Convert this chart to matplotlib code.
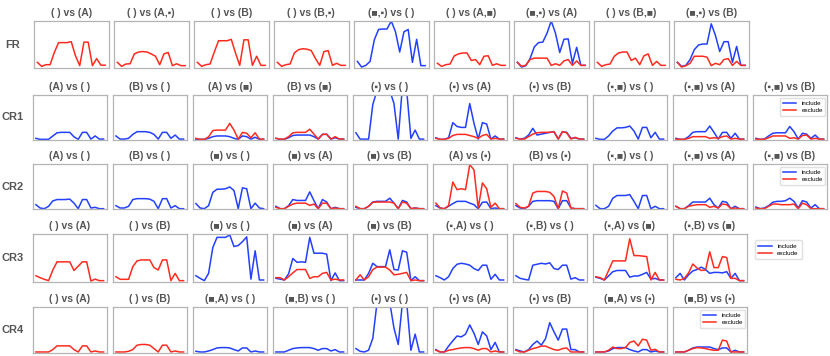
import numpy as np
import matplotlib.pyplot as plt

plt.rcParams['font.family'] = ['Liberation Sans', 'DejaVu Sans']

hours = np.arange(17)
BLUE = '#2340ff'
RED = '#ff2b1f'

row_names = ['FR', 'CR1', 'CR2', 'CR3', 'CR4']

fr_titles = ['( ) vs (A)', '( ) vs (A,▪)', '( ) vs (B)', '( ) vs (B,▪)', '(■,▪) vs ( )',
             '( ) vs (A,■)', '(■,▪) vs (A)', '( ) vs (B,■)', '(■,▪) vs (B)']
fr_include = [None, None, None, None,
              [0.14, 0.02, 0.056, 0.14, 0.6, 0.82, 0.83, 0.83, 1.0, 0.77, 0.34, 0.77, 0.82, 0.12, 0.61, 0.05, 0.05],
              None,
              [0.12, 0.02, 0.05, 0.2, 0.45, 0.54, 0.55, 0.74, 1.0, 0.74, 0.33, 0.61, 0.62, 0.1, 0.44, 0.056, 0.056],
              None,
              [0.12, 0.035, 0.056, 0.18, 0.39, 0.49, 0.51, 0.51, 0.94, 0.69, 0.35, 0.56, 0.56, 0.12, 0.46, 0.056, 0.056]]
fr_exclude = [[0.12, 0.035, 0.07, 0.07, 0.33, 0.54, 0.54, 0.54, 0.56, 0.26, 0.05, 0.55, 0.55, 0.05, 0.2, 0.06, 0.06],
              [0.12, 0.035, 0.085, 0.09, 0.3, 0.34, 0.35, 0.34, 0.3, 0.25, 0.07, 0.3, 0.33, 0.05, 0.09, 0.05, 0.05],
              [0.12, 0.035, 0.07, 0.085, 0.34, 0.58, 0.58, 0.58, 0.61, 0.32, 0.056, 0.6, 0.6, 0.056, 0.25, 0.056, 0.056],
              [0.12, 0.035, 0.07, 0.085, 0.32, 0.39, 0.41, 0.4, 0.37, 0.2, 0.056, 0.35, 0.37, 0.056, 0.1, 0.056, 0.056],
              None,
              [0.1, 0.035, 0.07, 0.085, 0.26, 0.3, 0.32, 0.32, 0.16, 0.18, 0.07, 0.25, 0.26, 0.056, 0.09, 0.056, 0.056],
              [0.12, 0.035, 0.06, 0.18, 0.21, 0.21, 0.21, 0.21, 0.056, 0.09, 0.056, 0.15, 0.18, 0.056, 0.15, 0.056, 0.056],
              [0.12, 0.035, 0.07, 0.085, 0.25, 0.32, 0.34, 0.34, 0.16, 0.21, 0.07, 0.26, 0.3, 0.056, 0.14, 0.056, 0.056],
              [0.12, 0.02, 0.05, 0.1, 0.25, 0.25, 0.25, 0.23, 0.05, 0.1, 0.07, 0.18, 0.2, 0.056, 0.14, 0.056, 0.056]]

cr1_titles = ['(A) vs ( )', '(B) vs ( )', '(A) vs (■)', '(B) vs (■)', '(▪) vs ( )',
              '(▪) vs (A)', '(▪) vs (B)', '(▪,■) vs ( )', '(▪,■) vs (A)', '(▪,■) vs (B)']
cr1_include = [[0.037, 0.015, 0.015, 0.015, 0.09, 0.16, 0.17, 0.17, 0.17, 0.07, 0.015, 0.17, 0.17, 0.02, 0.09, 0.02, 0.02],
               [0.09, 0.02, 0.02, 0.037, 0.125, 0.185, 0.185, 0.185, 0.17, 0.125, 0.02, 0.17, 0.17, 0.037, 0.11, 0.02, 0.02],
               [0.02, 0.015, 0.015, 0.037, 0.074, 0.09, 0.09, 0.09, 0.074, 0.037, 0.015, 0.09, 0.074, 0.02, 0.06, 0.015, 0.015],
               [0.037, 0.015, 0.015, 0.05, 0.1, 0.11, 0.11, 0.11, 0.11, 0.074, 0.02, 0.125, 0.125, 0.02, 0.05, 0.02, 0.02],
               [0.16, 0.02, 0.02, 0.02, 0.79, 1.1, 1.2, 1.2, 1.1, 0.81, 0.02, 1.2, 1.1, 0.037, 0.22, 0.02, 0.02],
               [0.05, 0.015, 0.015, 0.05, 0.385, 0.3, 0.28, 0.28, 0.81, 0.37, 0.02, 0.385, 0.355, 0.02, 0.09, 0.02, 0.02],
               [0.05, 0.02, 0.037, 0.11, 0.26, 0.11, 0.13, 0.15, 0.17, 0.185, 0.02, 0.185, 0.17, 0.037, 0.05, 0.02, 0.02],
               [0.037, 0.015, 0.015, 0.09, 0.2, 0.27, 0.27, 0.28, 0.31, 0.2, 0.02, 0.28, 0.28, 0.05, 0.17, 0.02, 0.02],
               [0.037, 0.015, 0.015, 0.074, 0.17, 0.185, 0.185, 0.185, 0.31, 0.17, 0.02, 0.17, 0.17, 0.037, 0.15, 0.02, 0.02],
               [0.037, 0.015, 0.02, 0.09, 0.15, 0.16, 0.16, 0.16, 0.3, 0.185, 0.02, 0.15, 0.13, 0.037, 0.11, 0.02, 0.02]]
cr1_exclude = [None, None,
               [0.037, 0.015, 0.015, 0.07, 0.21, 0.22, 0.22, 0.22, 0.37, 0.22, 0.02, 0.17, 0.15, 0.05, 0.16, 0.02, 0.02],
               [0.037, 0.02, 0.02, 0.074, 0.16, 0.17, 0.17, 0.17, 0.24, 0.13, 0.02, 0.125, 0.13, 0.02, 0.074, 0.02, 0.02],
               None,
               [0.037, 0.015, 0.015, 0.037, 0.1, 0.125, 0.125, 0.125, 0.1, 0.074, 0.037, 0.1, 0.125, 0.02, 0.037, 0.02, 0.02],
               [0.037, 0.02, 0.02, 0.074, 0.13, 0.16, 0.17, 0.17, 0.17, 0.185, 0.02, 0.185, 0.16, 0.02, 0.06, 0.02, 0.02],
               None,
               [0.02, 0.015, 0.015, 0.037, 0.074, 0.074, 0.074, 0.074, 0.037, 0.05, 0.037, 0.074, 0.09, 0.02, 0.037, 0.02, 0.02],
               [0.02, 0.015, 0.015, 0.05, 0.09, 0.09, 0.09, 0.09, 0.037, 0.05, 0.02, 0.1, 0.11, 0.02, 0.037, 0.02, 0.02]]

cr2_titles = ['(A) vs ( )', '(B) vs ( )', '(■) vs ( )', '(■) vs (A)', '(■) vs (B)',
              '(A) vs (▪)', '(B) vs (▪)', '(▪,■) vs ( )', '(▪,■) vs (A)', '(▪,■) vs (B)']
cr2_include = [[0.096, 0.022, 0.007, 0.06, 0.18, 0.21, 0.21, 0.21, 0.22, 0.13, 0.007, 0.21, 0.21, 0.022, 0.037, 0.007, 0.007],
               [0.074, 0.022, 0.022, 0.06, 0.21, 0.23, 0.23, 0.23, 0.22, 0.17, 0.007, 0.23, 0.23, 0.022, 0.074, 0.007, 0.007],
               [0.12, 0.022, 0.007, 0.074, 0.37, 0.44, 0.44, 0.45, 0.49, 0.41, 0.007, 0.47, 0.45, 0.007, 0.13, 0.022, 0.007],
               [0.06, 0.007, 0.007, 0.074, 0.21, 0.19, 0.19, 0.19, 0.38, 0.185, 0.007, 0.21, 0.155, 0.007, 0.037, 0.007, 0.007],
               [0.037, 0.007, 0.007, 0.06, 0.155, 0.17, 0.17, 0.17, 0.24, 0.13, 0.007, 0.19, 0.155, 0.007, 0.022, 0.007, 0.007],
               [0.074, 0.022, 0.007, 0.06, 0.12, 0.17, 0.17, 0.17, 0.13, 0.096, 0.007, 0.15, 0.155, 0.007, 0.022, 0.007, 0.007],
               [0.074, 0.022, 0.007, 0.06, 0.17, 0.185, 0.185, 0.185, 0.185, 0.17, 0.007, 0.185, 0.185, 0.022, 0.007, 0.007, 0.007],
               [0.08, 0.007, 0.007, 0.06, 0.24, 0.3, 0.3, 0.3, 0.32, 0.17, 0.007, 0.3, 0.3, 0.007, 0.06, 0.007, 0.007],
               [0.06, 0.007, 0.007, 0.074, 0.155, 0.155, 0.155, 0.155, 0.24, 0.096, 0.022, 0.17, 0.15, 0.007, 0.06, 0.007, 0.007],
               [0.044, 0.007, 0.022, 0.074, 0.15, 0.17, 0.17, 0.185, 0.24, 0.17, 0.022, 0.185, 0.155, 0.022, 0.096, 0.007, 0.007]]
cr2_exclude = [None, None, None,
               [0.037, 0.007, 0.007, 0.06, 0.11, 0.13, 0.13, 0.13, 0.08, 0.11, 0.007, 0.13, 0.13, 0.007, 0.022, 0.007, 0.007],
               [0.06, 0.007, 0.007, 0.06, 0.15, 0.155, 0.155, 0.155, 0.155, 0.13, 0.007, 0.155, 0.13, 0.007, 0.022, 0.007, 0.007],
               [0.13, 0.022, 0.007, 0.074, 0.6, 0.43, 0.45, 0.43, 0.985, 0.87, 0.022, 0.58, 0.45, 0.037, 0.13, 0.007, 0.007],
               [0.12, 0.037, 0.022, 0.06, 0.355, 0.39, 0.39, 0.39, 0.37, 0.28, 0.007, 0.4, 0.355, 0.022, 0.007, 0.007, 0.007],
               None,
               [0.06, 0.007, 0.007, 0.06, 0.08, 0.096, 0.096, 0.096, 0.037, 0.06, 0.022, 0.11, 0.096, 0.007, 0.022, 0.007, 0.007],
               [0.022, 0.007, 0.007, 0.06, 0.11, 0.11, 0.096, 0.096, 0.096, 0.11, 0.007, 0.13, 0.096, 0.007, 0.007, 0.007, 0.007]]

cr3_titles = ['( ) vs (A)', '( ) vs (B)', '(■) vs ( )', '(■) vs (A)', '(■) vs (B)',
              '(▪,A) vs ( )', '(▪,B) vs ( )', '(▪,A) vs (■)', '(▪,B) vs (■)']
cr3_include = [None, None,
               [0.13, 0.076, 0.028, 0.18, 0.72, 0.93, 0.93, 0.93, 0.98, 0.74, 0.76, 0.84, 0.94, 0.06, 0.65, 0.042, 0.042],
               [0.076, 0.06, 0.042, 0.17, 0.49, 0.41, 0.42, 0.41, 0.93, 0.6, 0.6, 0.6, 0.58, 0.028, 0.19, 0.028, 0.028],
               [0.042, 0.042, 0.042, 0.18, 0.39, 0.32, 0.32, 0.32, 0.67, 0.26, 0.25, 0.65, 0.62, 0.028, 0.11, 0.028, 0.028],
               [0.13, 0.09, 0.042, 0.11, 0.28, 0.37, 0.39, 0.375, 0.35, 0.28, 0.24, 0.35, 0.35, 0.056, 0.16, 0.042, 0.042],
               [0.13, 0.076, 0.056, 0.042, 0.35, 0.37, 0.39, 0.375, 0.4, 0.28, 0.26, 0.35, 0.35, 0.06, 0.09, 0.042, 0.042],
               [0.1, 0.076, 0.042, 0.125, 0.215, 0.24, 0.24, 0.24, 0.1, 0.125, 0.125, 0.16, 0.2, 0.06, 0.076, 0.042, 0.042],
               [0.09, 0.18, 0.042, 0.15, 0.23, 0.26, 0.31, 0.26, 0.18, 0.2, 0.2, 0.19, 0.215, 0.076, 0.18, 0.028, 0.028]]
cr3_exclude = [[0.13, 0.09, 0.056, 0.028, 0.25, 0.42, 0.42, 0.42, 0.42, 0.24, 0.33, 0.42, 0.42, 0.02, 0.06, 0.028, 0.028],
               [0.11, 0.056, 0.056, 0.056, 0.32, 0.44, 0.46, 0.46, 0.46, 0.3, 0.25, 0.46, 0.46, 0.028, 0.18, 0.028, 0.028],
               None,
               [0.09, 0.09, 0.042, 0.11, 0.19, 0.26, 0.26, 0.26, 0.076, 0.11, 0.11, 0.18, 0.2, 0.042, 0.06, 0.042, 0.042],
               [0.042, 0.15, 0.042, 0.11, 0.26, 0.31, 0.31, 0.31, 0.25, 0.15, 0.16, 0.18, 0.2, 0.028, 0.042, 0.028, 0.028],
               None, None,
               [0.11, 0.09, 0.042, 0.24, 0.44, 0.44, 0.44, 0.44, 0.9, 0.55, 0.55, 0.54, 0.53, 0.042, 0.2, 0.042, 0.042],
               [0.056, 0.042, 0.076, 0.19, 0.375, 0.29, 0.24, 0.25, 0.63, 0.3, 0.3, 0.53, 0.51, 0.076, 0.076, 0.028, 0.028]]

cr4_titles = ['( ) vs (A)', '( ) vs (B)', '(■,A) vs ( )', '(■,B) vs ( )', '(▪) vs ( )',
              '(▪) vs (A)', '(▪) vs (B)', '(■,A) vs (▪)', '(■,B) vs (▪)']
cr4_include = [None, None,
               [0.037, 0.022, 0.022, 0.044, 0.074, 0.11, 0.118, 0.118, 0.11, 0.074, 0.044, 0.11, 0.11, 0.022, 0.044, 0.022, 0.022],
               [0.022, 0.022, 0.022, 0.06, 0.096, 0.11, 0.118, 0.118, 0.118, 0.096, 0.06, 0.096, 0.096, 0.044, 0.074, 0.022, 0.022],
               [0.096, 0.037, 0.022, 0.06, 0.32, 1.1, 1.1, 1.1, 1.1, 0.54, 0.185, 1.1, 1.1, 0.06, 0.41, 0.022, 0.022],
               [0.074, 0.022, 0.022, 0.15, 0.265, 0.37, 0.35, 0.41, 0.61, 0.43, 0.185, 0.46, 0.37, 0.074, 0.23, 0.022, 0.022],
               [0.074, 0.044, 0.022, 0.074, 0.185, 0.26, 0.17, 0.31, 0.66, 0.46, 0.28, 0.52, 0.52, 0.074, 0.074, 0.022, 0.022],
               [0.022, 0.022, 0.022, 0.044, 0.096, 0.118, 0.118, 0.118, 0.074, 0.044, 0.022, 0.074, 0.074, 0.022, 0.044, 0.022, 0.022],
               [0.022, 0.022, 0.022, 0.06, 0.11, 0.13, 0.13, 0.13, 0.13, 0.096, 0.074, 0.11, 0.11, 0.022, 0.06, 0.022, 0.022]]
cr4_exclude = [[0.022, 0.022, 0.022, 0.022, 0.074, 0.155, 0.155, 0.155, 0.155, 0.074, 0.022, 0.155, 0.155, 0.022, 0.044, 0.022, 0.022],
               [0.022, 0.022, 0.022, 0.037, 0.074, 0.17, 0.185, 0.185, 0.17, 0.096, 0.022, 0.17, 0.17, 0.022, 0.044, 0.022, 0.022],
               None, None, None,
               [0.06, 0.022, 0.022, 0.06, 0.074, 0.096, 0.11, 0.118, 0.118, 0.096, 0.06, 0.096, 0.096, 0.022, 0.044, 0.022, 0.022],
               [0.06, 0.022, 0.022, 0.06, 0.096, 0.118, 0.15, 0.15, 0.11, 0.074, 0.06, 0.096, 0.11, 0.022, 0.022, 0.022, 0.022],
               [0.022, 0.022, 0.022, 0.06, 0.13, 0.096, 0.096, 0.118, 0.23, 0.26, 0.155, 0.3, 0.28, 0.06, 0.08, 0.022, 0.022],
               [0.022, 0.022, 0.022, 0.06, 0.096, 0.118, 0.11, 0.096, 0.074, 0.06, 0.06, 0.28, 0.26, 0.022, 0.022, 0.022, 0.022]]

rows = [(fr_titles, fr_include, fr_exclude),
        (cr1_titles, cr1_include, cr1_exclude),
        (cr2_titles, cr2_include, cr2_exclude),
        (cr3_titles, cr3_include, cr3_exclude),
        (cr4_titles, cr4_include, cr4_exclude)]

# pixel layout of the 830x356 figure
W, H = 830, 356
row_top = [21, 95, 164, 234, 307]
row_h = [47, 45, 45, 48, 46]
row_left = [34, 32.5, 32.5, 32.5, 32.5]
step = 80
pw = 74.5

fig = plt.figure(figsize=(W / 100, H / 100), dpi=100)

for r, (titles, inc, exc) in enumerate(rows):
    for c, t in enumerate(titles):
        left = row_left[r] + c * step
        ax = fig.add_axes([left / W, 1 - (row_top[r] + row_h[r]) / H, pw / W, row_h[r] / H])
        if inc[c] is not None:
            ax.plot(hours, inc[c], color=BLUE, lw=1.1, label='include')
        if exc[c] is not None:
            ax.plot(hours, exc[c], color=RED, lw=1.1, label='exclude')
        ax.set_xlim(-0.8, 16.8)
        ax.set_ylim(0, 1)
        ax.set_xticks([])
        ax.set_yticks([])
        for s in ax.spines.values():
            s.set_color('#b4b4b4')
            s.set_linewidth(0.9)
        ax.set_title(t, fontsize=7.5, fontweight='bold', color='#555555', pad=3.5)
        last = c == len(titles) - 1
        if last and r in (1, 2, 4):
            ax.legend(loc='upper right', bbox_to_anchor=(1.02, 1.0), fontsize=4.5,
                      handlelength=2.2, borderpad=0.4, labelspacing=0.3, framealpha=1,
                      edgecolor='#e0e0e0', fancybox=True)
        if last and r == 3:
            ax.legend(loc='upper left', bbox_to_anchor=(1.07, 0.93), fontsize=4.5,
                      handlelength=2.2, borderpad=0.5, labelspacing=0.3, framealpha=1,
                      edgecolor='#e0e0e0', fancybox=True)
    yc = row_top[r] + row_h[r] / 2
    fig.text(13 / W, 1 - yc / H, row_names[r], fontsize=8, fontweight='bold',
             color='#555555', ha='center', va='center')

fig.savefig('out.png', dpi=100)
